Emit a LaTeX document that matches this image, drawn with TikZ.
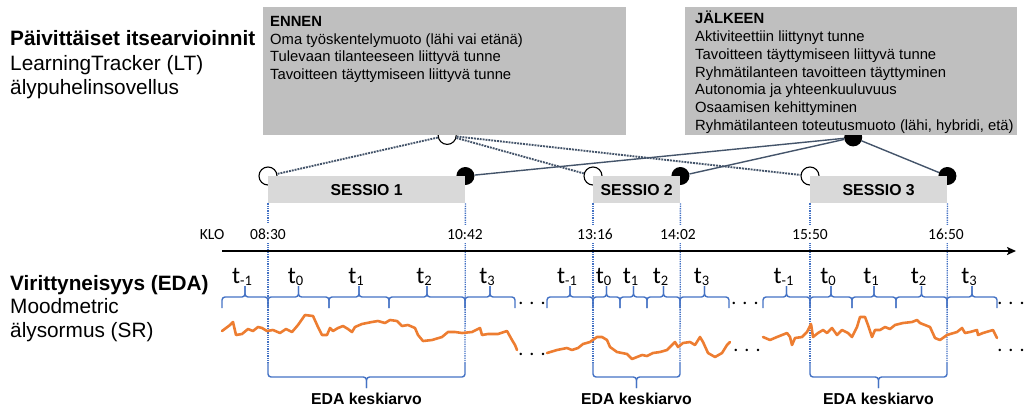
\documentclass[tikz,border=0pt]{standalone}
\usepackage{fontspec}
\setmainfont{Liberation Sans}
\newfontfamily\calfont{Carlito}
\usetikzlibrary{arrows.meta,backgrounds}

\definecolor{infogray}{HTML}{BFBFBF}
\definecolor{sessgray}{HTML}{D9D9D9}
\definecolor{linkslate}{HTML}{44546A}
\definecolor{edablue}{HTML}{4472C4}
\definecolor{edaorange}{HTML}{ED7D31}

\newcommand{\tsub}[1]{{\calfont\fontsize{24}{24}\selectfont t\raisebox{-2pt}{\fontsize{14.5}{14.5}\selectfont #1}}}

\begin{document}
\begin{tikzpicture}[x=1pt,y=-1pt]
  \tikzset{
    every node/.style={inner sep=0pt},
    infobox/.style={fill=infogray, anchor=north west, font=\fontsize{14.8}{17.8}\selectfont},
    sessbox/.style={fill=sessgray, anchor=north west, minimum height=27pt,
      font=\fontsize{15.8}{18}\selectfont\bfseries},
    opendot/.style={circle, draw=black, fill=white, line width=1.1pt, minimum size=18pt},
    fulldot/.style={circle, fill=black, minimum size=18pt},
    beforelink/.style={linkslate, line width=1.9pt, densely dotted},
    afterlink/.style={linkslate, line width=1.4pt},
    sidetext/.style={anchor=base west, font=\fontsize{20.8}{24}\selectfont},
    clocktext/.style={anchor=base, fill=white, inner xsep=2pt, inner ysep=4pt,
      font=\calfont\fontsize{15.5}{16}\selectfont},
    guide/.style={edablue, line width=1.3pt, densely dotted},
    bracepen/.style={edablue, line width=1.4pt, rounded corners=3pt},
    signal/.style={edaorange, line width=2.6pt, line join=round, line cap=round},
    gapdots/.style={anchor=base, font=\calfont\fontsize{20}{20}\selectfont},
    meanlabel/.style={anchor=base, font=\fontsize{15.8}{18}\selectfont\bfseries}
  }
  \useasboundingbox (0,0) rectangle (1024,410);

  \node[sidetext] (lt1) at (10,45.5) {\textbf{Päivittäiset itsearvioinnit}};
  \node[sidetext] (lt2) at (10,70) {LearningTracker (LT)};
  \node[sidetext] (lt3) at (10,94.5) {älypuhelinsovellus};
  \node[sidetext] (sr1) at (10,290) {\textbf{Virittyneisyys (EDA)}};
  \node[sidetext] (sr2) at (10,313.5) {Moodmetric};
  \node[sidetext] (sr3) at (10,337) {älysormus (SR)};

  \node[infobox] (ennen) at (263,7) {\parbox[c][128pt][t]{363pt}{\leftskip=7pt\rule{0pt}{19pt}\textbf{ENNEN}\\
    Oma työskentelymuoto (lähi vai etänä)\\
    Tulevaan tilanteeseen liittyvä tunne\\
    Tavoitteen täyttymiseen liittyvä tunne}};
  \node[infobox] (jalkeen) at (685,7) {\parbox[c][128pt][t]{332pt}{\leftskip=10pt\rule{0pt}{16.5pt}\textbf{JÄLKEEN}\\
    Aktiviteettiin liittynyt tunne\\
    Tavoitteen täyttymiseen liittyvä tunne\\
    Ryhmätilanteen tavoitteen täyttyminen\\
    Autonomia ja yhteenkuuluvuus\\
    Osaamisen kehittyminen\\
    Ryhmätilanteen toteutusmuoto (lähi, hybridi, etä)}};

  \node[sessbox, minimum width=197pt] (s1) at (268,176) {SESSIO 1};
  \node[sessbox, minimum width=87pt] (s2) at (593,176) {SESSIO 2};
  \node[sessbox, minimum width=137pt] (s3) at (810,176) {SESSIO 3};

  \begin{pgfonlayer}{background}
    \node[opendot] (eo) at ([xshift=2.5pt]ennen.south) {};
    \node[fulldot] (jf) at ([xshift=2pt,yshift=-2pt]jalkeen.south) {};
    \node[opendot] (s1o) at (s1.north west) {};
    \node[fulldot] (s1f) at (s1.north east) {};
    \node[opendot] (s2o) at (s2.north west) {};
    \node[fulldot] (s2f) at (s2.north east) {};
    \node[opendot] (s3o) at (s3.north west) {};
    \node[fulldot] (s3f) at (s3.north east) {};
    \draw[beforelink] (eo) -- (s1o);
    \draw[beforelink] (eo) -- (s2o);
    \draw[beforelink] (eo) -- (s3o);
    \draw[afterlink] (jf) -- (s1f);
    \draw[afterlink] (jf) -- (s2f);
    \draw[afterlink] (jf) -- (s3f);
  \end{pgfonlayer}

  \foreach \a/\b/\n in {268/465/1, 593/680/2, 810/947/3}
  {
    \pgfmathsetmacro{\m}{(\a+\b)/2}
    \draw[guide] (s\n.south west) -- (\a,363);
    \draw[guide] (s\n.south east) -- (\b,363);
    \draw[bracepen] (\a,363) -- (\a,377) -- (\m,377) -- (\m,388);
    \draw[bracepen] (\m,388) -- (\m,377) -- (\b,377) -- (\b,363);
    \node[meanlabel] (mean\n) at (\m,404.5) {EDA keskiarvo};
  }

  \node[clocktext] (klo) at (212,239) {KLO};
  \foreach \x/\t in {268/08:30, 465/10:42, 595/13:16, 678/14:02, 810/15:50, 946/16:50}
    \node[clocktext] (clk\x) at (\x,239) {\t};

  \coordinate (axisstart) at (222,251);
  \coordinate (axisend) at (1016,251);
  \draw[line width=2.5pt, -{Stealth[length=9pt,width=8pt,inset=2pt]}] (axisstart) -- (axisend);

  \foreach \a/\b/\k in {222/268/-1, 268/329/0, 329/389/1, 389/465/2, 465/515/3,
                        547/593/-1, 593/620/0, 620/647/1, 647/680/2, 680/729/3,
                        763/810/-1, 810/852/0, 852/896/1, 896/947/2, 947/997/3}
  {
    \pgfmathsetmacro{\m}{(\a+\b)/2}
    \draw[bracepen] (\a,308) -- (\a,297) -- (\m,297) -- (\m,286);
    \draw[bracepen] (\m,286) -- (\m,297) -- (\b,297) -- (\b,308);
    \node[anchor=base] (tl\a) at (\m-3,283) {\tsub{\k}};
  }

  \node[gapdots] (gu1) at (532,304.5) {. . .};
  \node[gapdots] (gu2) at (745,304.5) {. . .};
  \node[gapdots] (gu3) at (1011,304.5) {. . .};
  \node[gapdots] (gl1) at (532,355) {. . .};
  \node[gapdots] (gl2) at (747,351.5) {. . .};
  \node[gapdots] (gl3) at (1011,351.5) {. . .};

  \draw[signal] plot coordinates {(222,331) (230,325) (233,322) (236,335) (242,334) (248,329)
    (253,331) (258,327) (262,328) (267,331) (273,330) (280,333) (286,329) (292,332) (298,325)
    (305,315) (313,316) (318,327) (322,335) (327,335) (330,328) (333,331) (338,328) (343,326)
    (348,329) (352,332) (355,327) (362,324) (372,322) (378,321) (385,323) (390,320) (397,321)
    (402,326) (408,325) (415,328) (418,335) (423,341) (432,340) (442,337) (448,332) (455,332)
    (462,333) (472,332) (480,328) (482,335) (488,334) (498,334) (507,331) (512,340) (515,345)
    (517,350)};
  \draw[signal] plot coordinates {(547,353) (557,350) (567,348) (572,350) (578,348) (583,344)
    (590,342) (597,337) (602,337) (607,340) (610,347) (617,352) (627,354) (632,359) (637,357)
    (642,355) (647,356) (653,353) (660,352) (667,350) (672,345) (675,342) (678,347) (683,343)
    (690,342) (695,345) (700,337) (703,342) (708,353) (715,357) (722,353) (727,345) (730,342)};
  \draw[signal] plot coordinates {(763,337) (770,340) (777,337) (787,333) (790,337) (792,345)
    (795,338) (802,337) (807,332) (811,324) (813,337) (818,333) (823,330) (827,333) (832,328)
    (837,335) (842,330) (848,333) (852,337) (857,327) (860,317) (865,317) (868,325) (872,337)
    (875,330) (880,330) (885,327) (890,329) (895,325) (903,323) (912,322) (917,320) (920,323)
    (925,325) (930,327) (935,338) (940,340) (947,335) (957,332) (962,328) (965,333) (970,332)
    (977,330) (978,335) (983,333) (993,330) (997,338)};
\end{tikzpicture}
\end{document}
